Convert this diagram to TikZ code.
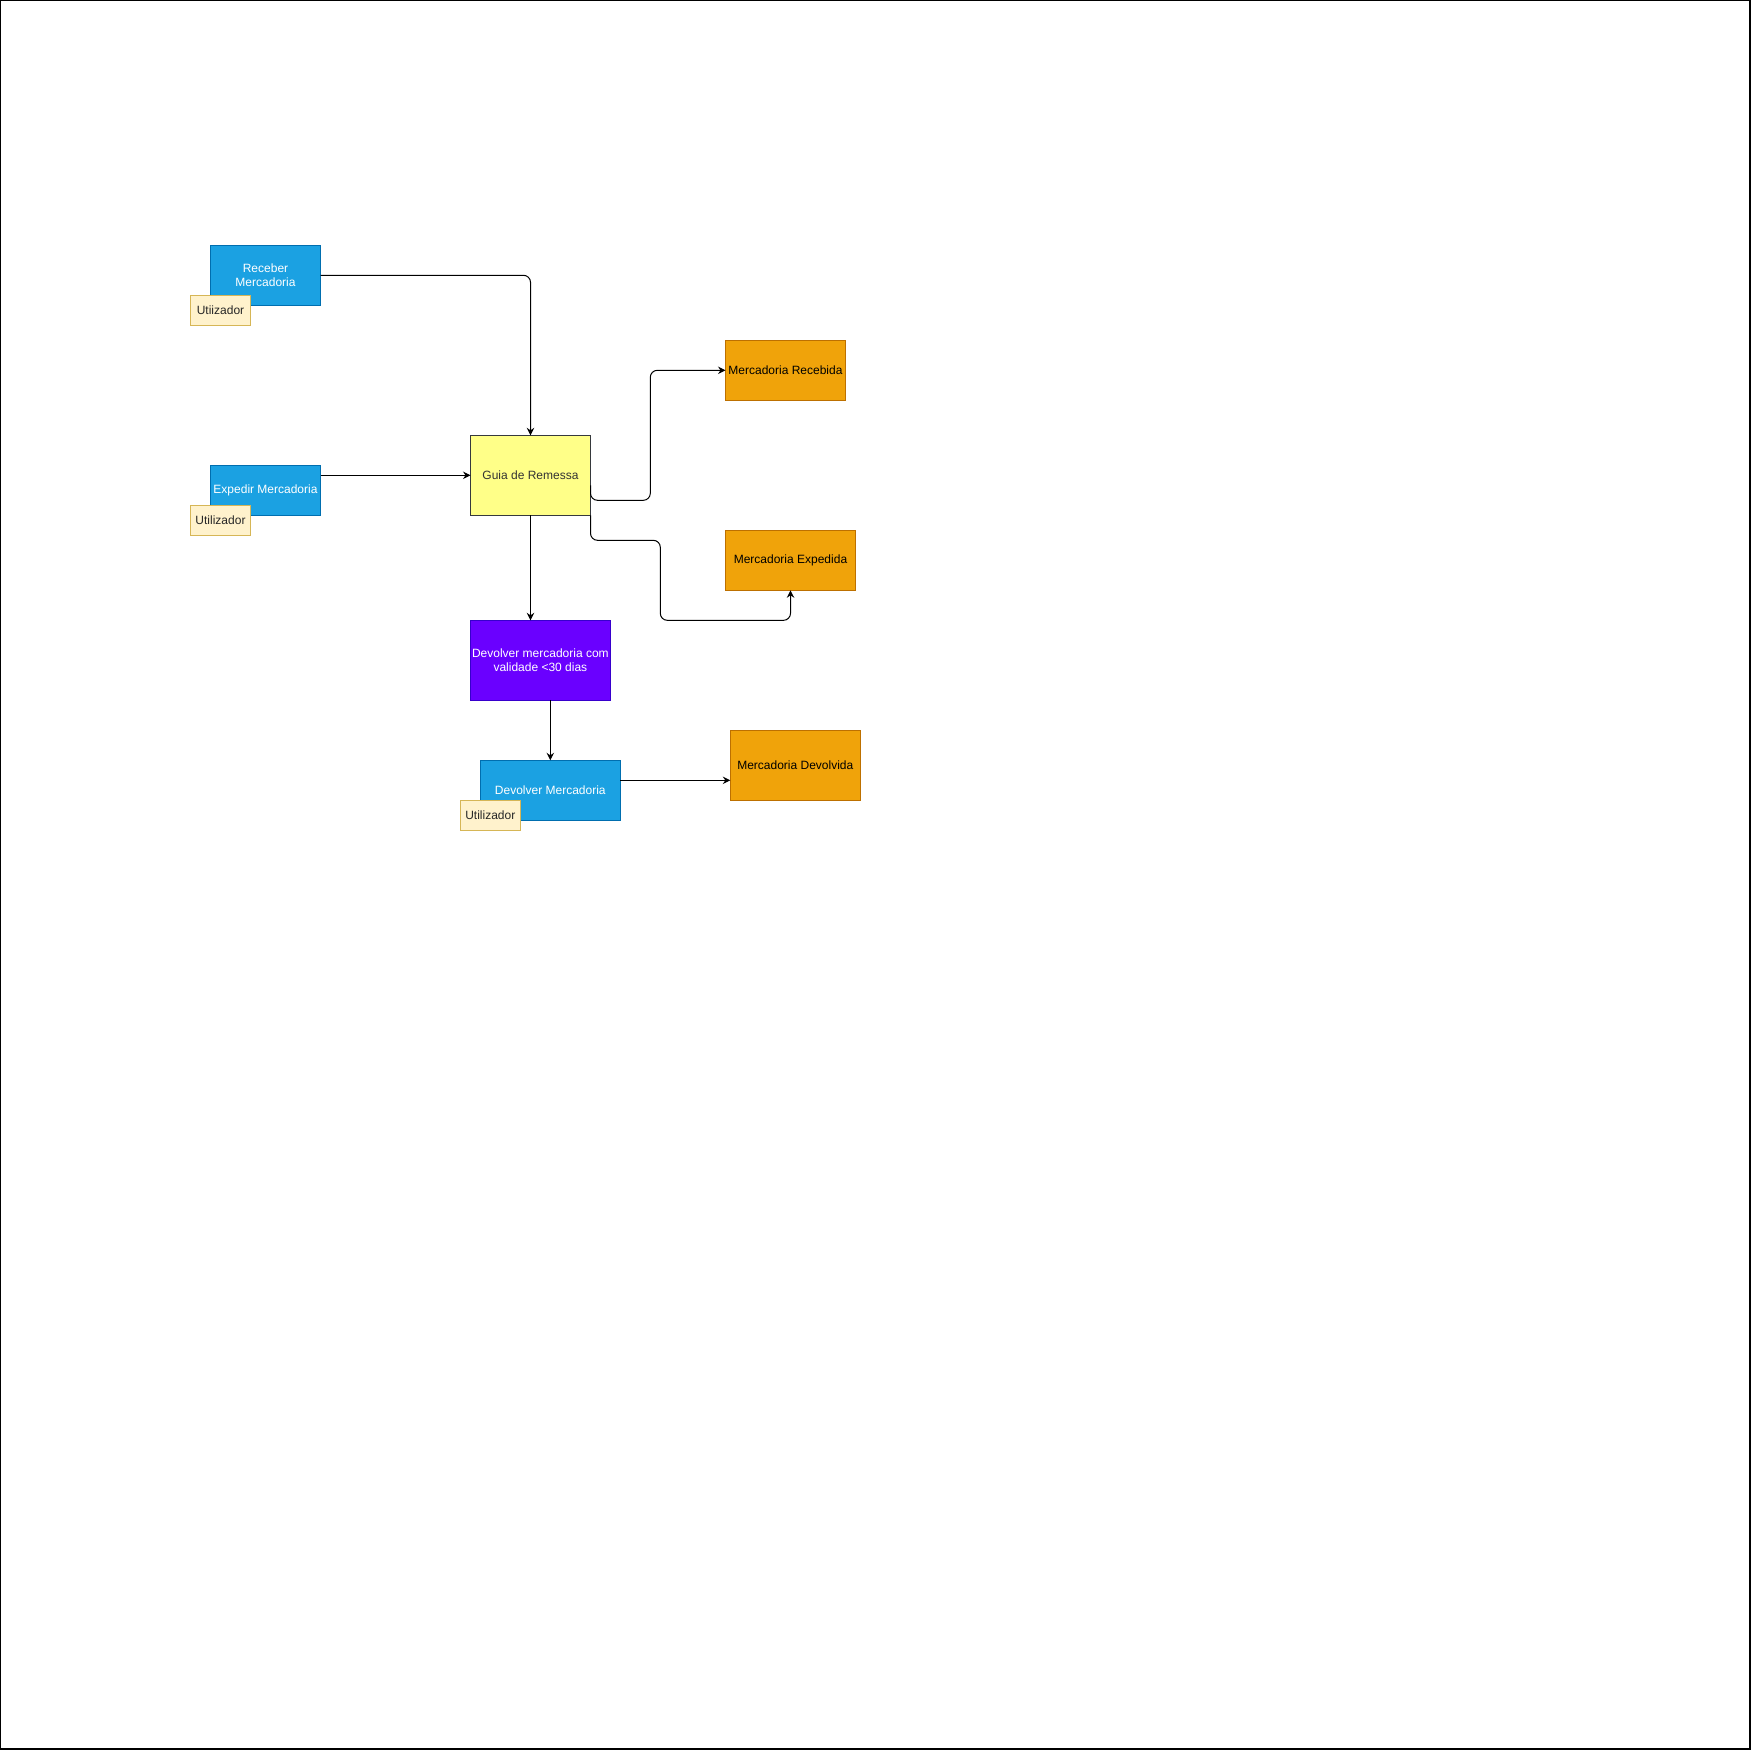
\documentclass[tikz,border=0pt]{standalone}
\usepackage{fontspec}
\setmainfont{Liberation Sans}
\usetikzlibrary{arrows.meta}
\definecolor{bluefill}{HTML}{1BA1E2}
\definecolor{bluedraw}{HTML}{006EAF}
\definecolor{yellowfill}{HTML}{FFFF88}
\definecolor{yellowdraw}{HTML}{36393D}
\definecolor{orangefill}{HTML}{F0A30A}
\definecolor{orangedraw}{HTML}{BD7000}
\definecolor{purplefill}{HTML}{6A00FF}
\definecolor{purpledraw}{HTML}{3700CC}
\definecolor{userfill}{HTML}{FFF2CC}
\definecolor{userdraw}{HTML}{D6B656}
\begin{document}
\begin{tikzpicture}[x=1pt, y=-1pt, >={Stealth[length=7.5pt,width=7.5pt,inset=2.5pt]},
    box/.style={rectangle, inner sep=0pt, outer sep=0pt, line width=1pt, align=center,
      font=\fontsize{12}{14.5}\selectfont},
    process/.style={box, fill=bluefill, draw=bluedraw, text=white},
    doc/.style={box, fill=yellowfill, draw=yellowdraw, text=black!80},
    result/.style={box, fill=orangefill, draw=orangedraw, text=black},
    rule/.style={box, fill=purplefill, draw=purpledraw, text=white},
    user/.style={box, fill=userfill, draw=userdraw, text=black!85,
      minimum width=60pt, minimum height=30pt},
    flow/.style={line width=1pt, rounded corners=7pt}]

  \useasboundingbox (0,0) rectangle (1752,1751);

  % Page frame
  \draw[line width=1.5pt] (0.7,0.7) rectangle (1750.2,1749.2);

  % Processes and their users
  \node[process, minimum width=110pt, minimum height=60pt] (receber) at (265.5,275.3) {Receber\\Mercadoria};
  \node[user] (user1) at (220.5,310.5) {Utiizador};
  \node[process, minimum width=110pt, minimum height=50pt] (expedir) at (265.5,490.3) {Expedir Mercadoria};
  \node[user] (user2) at (220.5,520.3) {Utilizador};

  % Document
  \node[doc, minimum width=120pt, minimum height=80pt] (guia) at (530.5,475.3) {Guia de Remessa};

  % Results
  \node[result, minimum width=120pt, minimum height=60pt] (recebida) at (785.5,370.3) {Mercadoria Recebida};
  \node[result, minimum width=130pt, minimum height=60pt] (expedida) at (790.5,560.3) {Mercadoria Expedida};

  % Rule and return
  \node[rule, minimum width=140pt, minimum height=80pt] (regra) at (540.4,660.3) {Devolver mercadoria com\\validade <30 dias};
  \node[process, minimum width=140pt, minimum height=60pt] (devolver) at (550.3,790.3) {Devolver Mercadoria};
  \node[user] (user3) at (490.3,815.3) {Utilizador};
  \node[result, minimum width=130pt, minimum height=70pt] (devolvida) at (795.3,765.3) {Mercadoria Devolvida};

  % Connectors
  \draw[flow, ->] (receber.east) -| (guia.north);
  \draw[flow, ->] (expedir.east |- guia.west) -- (guia.west);
  \draw[flow, ->] ([yshift=-10pt]guia.east) -- ++(0,15) -| (650.3,370.3) -- (recebida.west);
  \draw[flow, ->] (guia.south east) -- ++(0,25) -| (660.3,620.3) -| (expedida.south);
  \draw[flow, ->] (guia.south) -- (guia.south |- regra.north);
  \draw[flow, ->] (devolver.north |- regra.south) -- (devolver.north);
  \draw[flow, ->] ([yshift=10pt]devolver.east) -- ([yshift=10pt]devolver.east -| devolvida.west);

\end{tikzpicture}
\end{document}
